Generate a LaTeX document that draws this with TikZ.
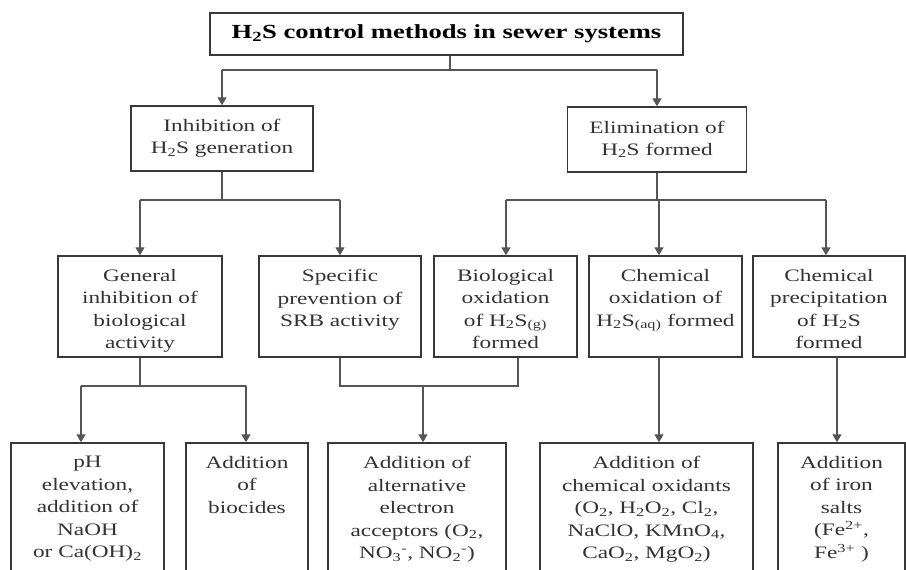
\documentclass[tikz,border=0pt]{standalone}
\usepackage{fontspec}
\setmainfont[FakeStretch=1.33]{Liberation Serif}
\usetikzlibrary{arrows.meta}
\definecolor{boxc}{HTML}{383838}
\definecolor{linec}{HTML}{555555}
\definecolor{textc}{HTML}{333333}
\begin{document}
\begin{tikzpicture}[x=1pt,y=-1pt,
  box/.style={draw=boxc, line width=1.4pt, rectangle, inner sep=0pt, text=textc, align=center,
              font=\fontsize{17.5}{22}\selectfont},
  txt/.style={font=\fontsize{17.5}{22.5}\selectfont, text=textc, align=center, inner sep=0pt, anchor=north},
  conn/.style={draw=linec, line width=1.3pt},
  arr/.style={draw=linec, line width=1.3pt, -{Triangle[width=9pt,length=8pt]}}]
\useasboundingbox (0,0) rectangle (906,570);
\clip (0,0) rectangle (906,570);
\fill[white] (0,0) rectangle (906,570);

% title
\node[box, minimum width=473, minimum height=42, text=black,
      font=\bfseries\fontsize{20}{24}\selectfont] (title) at (446.5,34)
      {H\textsubscript{2}S control methods in sewer systems};

% level 1
\node[box, minimum width=182, minimum height=65] (inh) at (222,138.5)
      {Inhibition of\\H\textsubscript{2}S generation};
\node[box, minimum width=179, minimum height=65] (elim) at (657,139.5)
      {Elimination of\\H\textsubscript{2}S formed};

% level 2 boxes
\node[box, minimum width=164, minimum height=101] (gen)  at (140,306.5) {};
\node[box, minimum width=162, minimum height=101] (spec) at (340,306.5) {};
\node[box, minimum width=143, minimum height=101] (bio)  at (505.5,306.5) {};
\node[box, minimum width=153, minimum height=101] (chox) at (665.5,306.5) {};
\node[box, minimum width=152, minimum height=101] (prec) at (829,306.5) {};

\node[txt] (tgen)  at (140,269)   {General\\inhibition of\\biological\\activity};
\node[txt] (tspec) at (340,269)   {Specific\\prevention of\\SRB activity};
\node[txt] (tbio)  at (505.5,269) {Biological\\oxidation\\of H\textsubscript{2}S\textsubscript{(g)}\\formed};
\node[txt] (tchox) at (665.5,269) {Chemical\\oxidation of\\H\textsubscript{2}S\textsubscript{(aq)} formed};
\node[txt] (tprec) at (829,269)   {Chemical\\precipitation\\of H\textsubscript{2}S\\formed};

% level 3 boxes (cut off at the bottom)
\node[box, minimum width=153, minimum height=150] (ph)   at (87.5,518) {};
\node[box, minimum width=122, minimum height=150] (bioc) at (247,518) {};
\node[box, minimum width=178, minimum height=150] (alt)  at (417,518) {};
\node[box, minimum width=213, minimum height=150] (oxd)  at (646.5,518) {};
\node[box, minimum width=127, minimum height=150] (iron) at (841.5,518) {};

\node[txt] (tph)   at (87.5,456)  {pH\\elevation,\\addition of\\NaOH\\or Ca(OH)\textsubscript{2}};
\node[txt] (tbioc) at (247,456)   {Addition\\of\\biocides};
\node[txt] (talt)  at (417,456)   {Addition of\\alternative\\electron\\acceptors (O\textsubscript{2},\\NO\textsubscript{3}\textsuperscript{-}, NO\textsubscript{2}\textsuperscript{-})};
\node[txt] (toxd)  at (646.5,456) {Addition of\\chemical oxidants\\(O\textsubscript{2}, H\textsubscript{2}O\textsubscript{2}, Cl\textsubscript{2},\\NaClO, KMnO\textsubscript{4},\\CaO\textsubscript{2}, MgO\textsubscript{2})};
\node[txt] (tiron) at (841.5,456) {Addition\\of iron\\salts\\(Fe\textsuperscript{2+},\\Fe\textsuperscript{3+} )};

% connectors: title -> level 1
\coordinate (t0) at (450,70);
\coordinate (busA) at (222,70);
\coordinate (busB) at (657,70);
\draw[conn] (title.south -| t0) -- (t0);
\draw[conn] (busA) -- (busB);
\draw[arr] (busA) -- (busA |- inh.north);
\draw[arr] (busB) -- (busB |- elim.north);

% inhibition -> level 2
\coordinate (b1) at (140,200);
\coordinate (b2) at (340,200);
\draw[conn] (inh.south) -- (inh.south |- b1);
\draw[conn] (b1) -- (b2);
\draw[arr] (b1) -- (b1 |- gen.north);
\draw[arr] (b2) -- (b2 |- spec.north);

% elimination -> level 2
\coordinate (e1) at (506,200);
\coordinate (e2) at (659,200);
\coordinate (e3) at (826,200);
\draw[conn] (elim.south) -- (elim.south |- e1);
\draw[conn] (e1) -- (e3);
\draw[arr] (e1) -- (e1 |- bio.north);
\draw[arr] (e2) -- (e2 |- chox.north);
\draw[arr] (e3) -- (e3 |- prec.north);

% general -> ph, biocides
\coordinate (g1) at (81,386);
\coordinate (g2) at (246,386);
\draw[conn] (gen.south) -- (gen.south |- g1);
\draw[conn] (g1) -- (g2);
\draw[arr] (g1) -- (g1 |- ph.north);
\draw[arr] (g2) -- (g2 |- bioc.north);

% specific + biological -> alternative acceptors
\coordinate (s1) at (518,386);
\coordinate (s2) at (423,386);
\draw[conn] (spec.south) |- (s1) -- (s1 |- bio.south);
\draw[arr] (s2) -- (s2 |- alt.north);

% chemical oxidation -> oxidants
\coordinate (c0) at (659,357);
\draw[arr] (c0) -- (c0 |- oxd.north);

% precipitation -> iron salts
\coordinate (p0) at (837,357);
\draw[arr] (p0) -- (p0 |- iron.north);
\end{tikzpicture}
\end{document}
